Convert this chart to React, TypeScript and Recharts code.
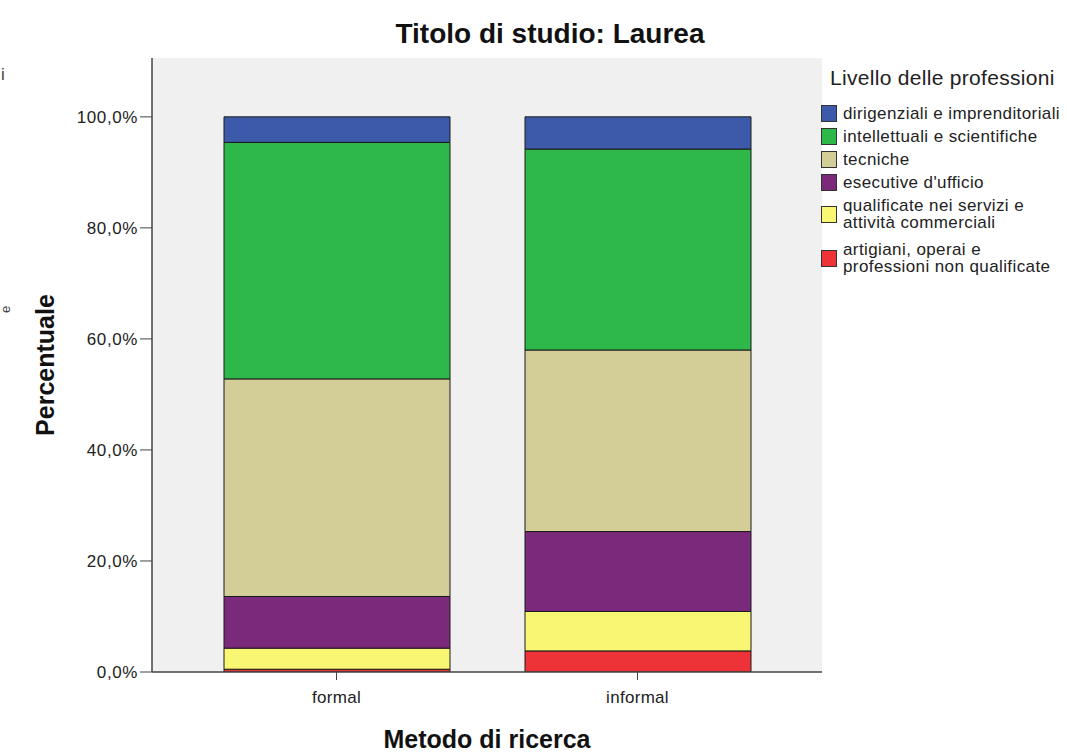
import React from 'react';
import {
  BarChart,
  Bar,
  XAxis,
  YAxis,
  CartesianGrid,
} from 'recharts';

const categories = ['formal', 'informal'];
// percentage per level, bottom of the stack first
const artigiani = [0.5, 3.8];
const qualificate = [3.8, 7.1];
const esecutive = [9.3, 14.4];
const tecniche = [39.2, 32.7];
const intellettuali = [42.6, 36.2];
const dirigenziali = [4.6, 5.8];

const yTicks = [0, 20, 40, 60, 80, 100];

const series = [
  { key: 'artigiani', name: 'artigiani, operai e\nprofessioni non qualificate', color: '#ee3338', values: artigiani },
  { key: 'qualificate', name: 'qualificate nei servizi e\nattività commerciali', color: '#f8f673', values: qualificate },
  { key: 'esecutive', name: "esecutive d'ufficio", color: '#7b297b', values: esecutive },
  { key: 'tecniche', name: 'tecniche', color: '#d3ce97', values: tecniche },
  { key: 'intellettuali', name: 'intellettuali e scientifiche', color: '#2eb84a', values: intellettuali },
  { key: 'dirigenziali', name: 'dirigenziali e imprenditoriali', color: '#3d5aaa', values: dirigenziali },
];

const data = categories.map((c, i) => {
  const row: Record<string, string | number> = { name: c };
  series.forEach((s) => { row[s.key] = s.values[i]; });
  return row;
});

const font = '"Liberation Sans", Arial, sans-serif';

function LegendBox() {
  const items = [...series].reverse();
  return (
    <div style={{ position: 'absolute', left: 821, top: 66, width: 246, fontFamily: font, color: '#222' }}>
      <div style={{ fontSize: 21, letterSpacing: 0.3, marginLeft: 9, marginBottom: 15 }}>Livello delle professioni</div>
      {items.map((s) => {
        const lines = s.name.split('\n');
        return (
          <div key={s.key} style={{ display: 'flex', alignItems: 'center', marginBottom: lines.length > 1 ? 10 : 6 }}>
            <div style={{ width: 16, height: 17, background: s.color, border: '1px solid #333', boxSizing: 'border-box', flexShrink: 0 }} />
            <div style={{ fontSize: 17, lineHeight: '17px', marginLeft: 6, letterSpacing: 0.4 }}>
              {lines.map((l) => <div key={l}>{l}</div>)}
            </div>
          </div>
        );
      })}
    </div>
  );
}

export default function App() {
  return (
    <div style={{ position: 'absolute', left: 0, top: 0, width: 1067, height: 756, background: '#fff', fontFamily: font }}>
      <div style={{ position: 'absolute', left: 350, width: 400, top: 18, fontSize: 28, fontWeight: 'bold', textAlign: 'center', color: '#111' }}>
        Titolo di studio: Laurea
      </div>
      <div style={{ position: 'absolute', left: 1, top: 65, fontSize: 17, color: '#444' }}>i</div>
      <div style={{ position: 'absolute', left: 2, top: 302, fontSize: 13, color: '#444', transform: 'rotate(-90deg)' }}>e</div>
      <BarChart
        width={1067}
        height={756}
        data={data}
        margin={{ top: 58, right: 245, bottom: 0, left: 0 }}
        barCategoryGap={0}
      >
        <CartesianGrid fill="#f0f0f0" horizontal={false} vertical={false} />
        <XAxis
          dataKey="name"
          height={84}
          padding={{ left: 34, right: 34 }}
          tick={{ fontSize: 17, fill: '#222', fontFamily: font, letterSpacing: 0.3 }}
          tickSize={8}
          tickMargin={11}
          stroke="#444"
          axisLine={{ stroke: '#444', strokeWidth: 1.5 }}
          label={{ value: 'Metodo di ricerca', position: 'insideBottom', offset: 8, style: { fontSize: 25, fontWeight: 'bold', fill: '#111', fontFamily: font } }}
        />
        <XAxis xAxisId="top" orientation="top" dataKey="name" height={0} tick={false} tickLine={false} axisLine={{ stroke: '#444', strokeWidth: 1.5 }} />
        <YAxis
          width={152}
          domain={[0, 110.6]}
          ticks={yTicks}
          allowDataOverflow
          tickFormatter={(v: number) => `${v.toFixed(1).replace('.', ',')}%`}
          tick={{ fontSize: 17, fill: '#222', fontFamily: font, letterSpacing: 0.6 }}
          tickSize={12}
          tickMargin={2}
          stroke="#444"
          axisLine={{ stroke: '#444', strokeWidth: 1.5 }}
          label={{ value: 'Percentuale', angle: -90, position: 'insideLeft', offset: 45, style: { fontSize: 25, fontWeight: 'bold', fill: '#111', fontFamily: font, textAnchor: 'middle' } }}
        />
        <YAxis yAxisId="right" orientation="right" width={0} tick={false} tickLine={false} axisLine={{ stroke: '#444', strokeWidth: 1.5 }} />
        {series.map((s) => (
          <Bar
            key={s.key}
            dataKey={s.key}
            name={s.name}
            stackId="a"
            fill={s.color}
            stroke="#1a1a1a"
            strokeWidth={1}
            barSize={226}
            isAnimationActive={false}
          />
        ))}
      </BarChart>
      <LegendBox />
    </div>
  );
}
